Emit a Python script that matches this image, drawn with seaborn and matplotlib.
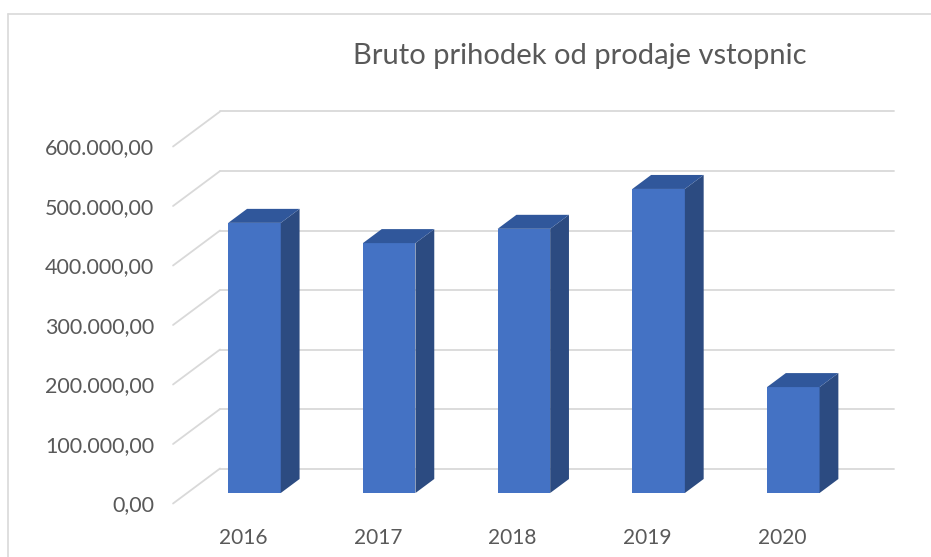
import matplotlib.pyplot as plt
import seaborn as sns
from matplotlib.patches import Polygon
from matplotlib.lines import Line2D

years = ['2016', '2017', '2018', '2019', '2020']
revenue = [454000, 420000, 444000, 511000, 178000]
y_ticks = [0, 100000, 200000, 300000, 400000, 500000, 600000]
y_labels = ['0,00', '100.000,00', '200.000,00', '300.000,00',
            '400.000,00', '500.000,00', '600.000,00']
title = 'Bruto prihodek od prodaje vstopnic'

front_col = '#4472C4'
side_col = '#2C4B81'
top_col = '#30579B'
grid_col = '#D9D9D9'
text_col = '#595959'

sns.set_style('white')
plt.rcParams['font.family'] = ['Lato', 'DejaVu Sans']

W, H = 931, 557
fig = plt.figure(figsize=(W / 100, H / 100), dpi=100)

# axes box in pixels
ax_l, ax_t, ax_r, ax_b = 150, 95, 915, 515
ax = fig.add_axes([ax_l / W, 1 - ax_b / H, (ax_r - ax_l) / W, (ax_b - ax_t) / H])

# pixel scale: one category slot and 100k in pixels
cat_px = 134.7
val_px = 59.5 / 100000
x0_px, y0_px = 254.5, 493  # front face centre of first bar / base line

sns.barplot(x=years, y=revenue, color=front_col, saturation=1, width=0.39,
            ax=ax, zorder=3, linewidth=0)

ax.set_xlim((ax_l - x0_px) / cat_px, (ax_r - x0_px) / cat_px)
ax.set_ylim((y0_px - ax_b) / val_px, (y0_px - ax_t) / val_px)

# oblique depth: full floor depth in pixels, bar front sits at 0.3 of it
depth_px = (47, -35)
t_bar = 0.3


def shift(t):
    # data offset for depth t measured from the bar front plane
    return ((t - t_bar) * depth_px[0] / cat_px, -(t - t_bar) * depth_px[1] / val_px)


fx, fy = shift(0)
bx, by = shift(1)
n = len(years)

# back wall + side diagonals
for v in y_ticks:
    ax.add_line(Line2D([-0.5 + fx, -0.5 + bx], [v + fy, v + by], color=grid_col, lw=1.3, zorder=1))
    ax.add_line(Line2D([-0.5 + bx, n - 0.5 + bx], [v + by, v + by], color=grid_col, lw=1.3, zorder=1))

# 3d side and top faces
dx, dy = shift(t_bar + 0.4)
for p in ax.patches[:n]:
    x, w, h = p.get_x(), p.get_width(), p.get_height()
    side = [(x + w, 0), (x + w + dx, dy), (x + w + dx, h + dy), (x + w, h)]
    top = [(x, h), (x + dx, h + dy), (x + w + dx, h + dy), (x + w, h)]
    ax.add_patch(Polygon(side, closed=True, color=side_col, lw=0, zorder=3))
    ax.add_patch(Polygon(top, closed=True, color=top_col, lw=0, zorder=3))

ax.set_yticks([v + fy for v in y_ticks], y_labels)
ax.set_xticks([i - 0.085 for i in range(n)], years)
ax.tick_params(axis='y', length=0, pad=-3, labelsize=15.5, labelcolor=text_col)
ax.tick_params(axis='x', length=0, pad=9, labelsize=15, labelcolor=text_col)
ax.set_xlabel('')
ax.set_ylabel('')
sns.despine(ax=ax, left=True, bottom=True)

fig.text(580 / W, 1 - 64 / H, title, ha='center', va='baseline', fontsize=21, color=text_col)

# chart area border
fig.add_artist(Line2D([8 / W, 1], [1 - 14 / H, 1 - 14 / H], transform=fig.transFigure, color=grid_col, lw=1.2))
fig.add_artist(Line2D([8 / W, 8 / W], [0, 1 - 14 / H], transform=fig.transFigure, color=grid_col, lw=1.2))

fig.savefig('out.png', dpi=100)
